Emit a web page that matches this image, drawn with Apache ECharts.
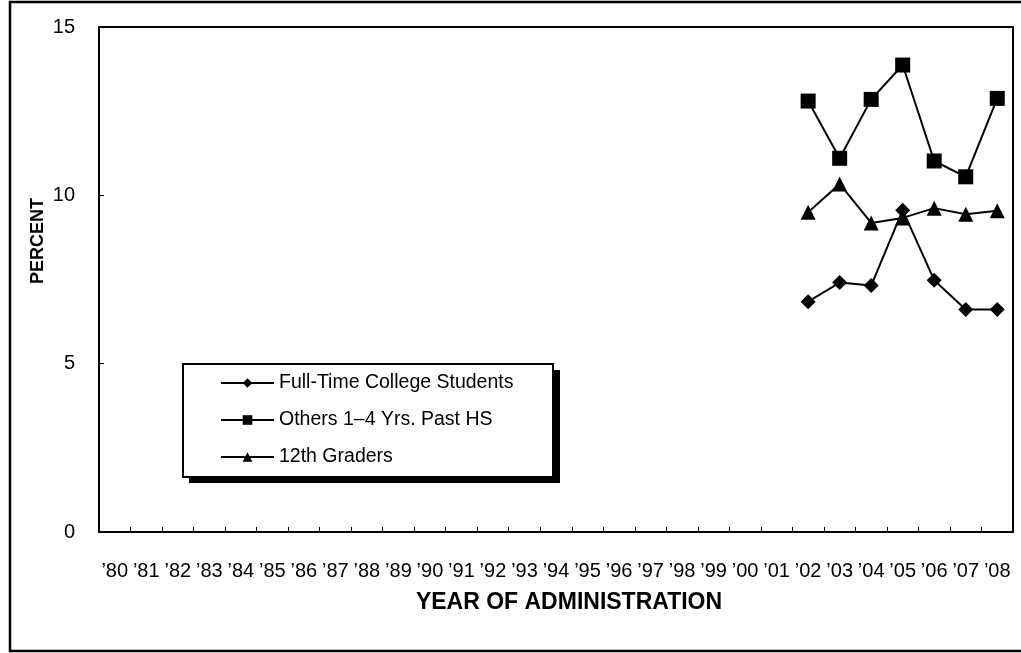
<!DOCTYPE html>
<html>
<head>
<meta charset="utf-8">
<script src="https://cdn.jsdelivr.net/npm/echarts@6/dist/echarts.min.js"></script>
<style>
html,body{margin:0;padding:0;background:#fff;}
#chart{width:1021px;height:653px;}
</style>
</head>
<body>
<div id="chart"></div>
<script>
const years = ['’80','’81','’82','’83','’84','’85','’86','’87','’88','’89','’90','’91','’92','’93','’94','’95','’96','’97','’98','’99','’00','’01','’02','’03','’04','’05','’06','’07','’08'];
const fullTimeCollege = [null,null,null,null,null,null,null,null,null,null,null,null,null,null,null,null,null,null,null,null,null,null,6.84,7.41,7.32,9.56,7.48,6.61,6.61];
const othersPastHS = [null,null,null,null,null,null,null,null,null,null,null,null,null,null,null,null,null,null,null,null,null,null,12.8,11.1,12.85,13.87,11.02,10.55,12.88];
const twelfthGraders = [null,null,null,null,null,null,null,null,null,null,null,null,null,null,null,null,null,null,null,null,null,null,9.5,10.34,9.18,9.33,9.62,9.44,9.54];
const seriesNames = ['Full-Time College Students','Others 1–4 Yrs. Past HS','12th Graders'];
const yTicks = [0,5,10,15];

const FONT = '"Liberation Sans", Arial, sans-serif';
const chart = echarts.init(document.getElementById('chart'), null, {renderer:'canvas'});

function mkSeries(name, data, symbol, size){
  return {
    name: name, type: 'line', data: data, symbol: symbol, symbolSize: size,
    showAllSymbol: true, connectNulls: false,
    lineStyle: {color:'#000', width:2},
    itemStyle: {color:'#000', borderWidth:0},
    emphasis: {disabled:true},
    animation: false
  };
}

chart.setOption({
  animation: false,
  backgroundColor: '#fff',
  textStyle: {fontFamily: FONT, color:'#000'},
  grid: {left: 99, right: 8, top: 27, bottom: 121, show: true, borderColor: '#000', borderWidth: 2, backgroundColor: 'transparent'},
  xAxis: {
    type: 'category', data: years, boundaryGap: true,
    axisLine: {show: true, lineStyle: {color:'#000', width: 2}},
    axisTick: {show: true, inside: true, length: 5, lineStyle: {color:'#000', width:1}, alignWithLabel: false, interval: 0},
    axisLabel: {interval: 0, margin: 29, fontSize: 20, color: '#000', fontFamily: FONT},
    splitLine: {show: false}
  },
  yAxis: {
    type: 'value', min: yTicks[0], max: yTicks[yTicks.length-1], interval: 5,
    axisLine: {show: true, lineStyle: {color:'#000', width: 2}},
    axisTick: {show: true, inside: true, length: 5, lineStyle: {color:'#000', width:1}},
    axisLabel: {margin: 24, fontSize: 20, color:'#000', fontFamily: FONT},
    splitLine: {show: false}
  },
  legend: {
    orient: 'vertical', left: 220, top: 373, z: 10,
    data: seriesNames,
    itemWidth: 53, itemHeight: 12, itemGap: 17,
    padding: 0,
    backgroundColor: 'transparent', borderWidth: 0,
    textStyle: {fontSize: 19.5, lineHeight: 20, color: '#000', fontFamily: FONT},
    selectedMode: false
  },
  graphic: [
    {type:'rect', z: -1, silent:true, shape:{x:10, y:2, width:1030, height:649}, style:{fill:'none', stroke:'#000', lineWidth:2.5}},
    {type:'rect', z: 5, silent:true, shape:{x:189, y:370, width:371, height:113}, style:{fill:'#000'}},
    {type:'rect', z: 6, silent:true, shape:{x:183, y:364, width:370, height:113}, style:{fill:'#fff', stroke:'#000', lineWidth:2}},
    {type:'text', z: 6, x: 569, y: 603, style:{text:'YEAR OF ADMINISTRATION', font:'bold 23px ' + FONT, fill:'#000', textAlign:'center', textVerticalAlign:'middle'}},
    {type:'text', z: 6, x: 38, y: 241, rotation: Math.PI/2, style:{text:'PERCENT', font:'bold 18px ' + FONT, fill:'#000', textAlign:'center', textVerticalAlign:'middle'}}
  ],
  series: [
    mkSeries(seriesNames[0], fullTimeCollege, 'diamond', 15),
    mkSeries(seriesNames[1], othersPastHS, 'rect', 15),
    mkSeries(seriesNames[2], twelfthGraders, 'triangle', 15)
  ]
});
</script>
</body>
</html>
